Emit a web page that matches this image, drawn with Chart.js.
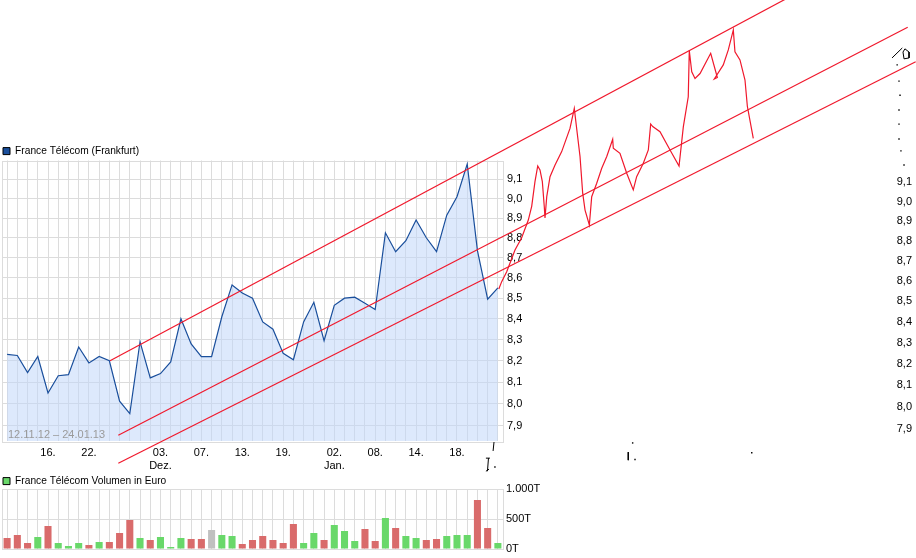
<!DOCTYPE html>
<html><head><meta charset="utf-8">
<script src="https://cdn.jsdelivr.net/npm/chart.js@4"></script>
<style>
html,body{margin:0;padding:0;background:#fff;width:916px;height:558px;overflow:hidden}
canvas{position:absolute;display:block}
</style></head><body>
<canvas id="price" width="530" height="327" style="left:0;top:145px"></canvas>
<canvas id="vol" width="560" height="83" style="left:0;top:475px"></canvas>
<canvas id="pen" width="916" height="558" style="left:0;top:0;pointer-events:none"></canvas>
<script>
const dates=['12.11','13.11','14.11','15.11','16.11','19.11','20.11','21.11','22.11','23.11','26.11','27.11','28.11','29.11','30.11','03.12','04.12','05.12','06.12','07.12','10.12','11.12','12.12','13.12','14.12','17.12','18.12','19.12','20.12','21.12','27.12','28.12','02.01','03.01','04.01','07.01','08.01','09.01','10.01','11.01','14.01','15.01','16.01','17.01','18.01','21.01','22.01','23.01','24.01'];
const dateTicks={'16.11':'16.','22.11':'22.','03.12':['03.','Dez.'],'07.12':'07.','13.12':'13.','19.12':'19.','02.01':['02.','Jan.'],'08.01':'08.','14.01':'14.','18.01':'18.'};
const closePrices=[8.23,8.225,8.145,8.22,8.05,8.13,8.135,8.265,8.19,8.22,8.20,8.012,7.955,8.29,8.12,8.14,8.195,8.40,8.28,8.22,8.22,8.41,8.565,8.525,8.50,8.385,8.35,8.235,8.205,8.385,8.48,8.295,8.465,8.50,8.505,8.475,8.445,8.825,8.73,8.785,8.89,8.80,8.73,8.915,9.01,9.18,8.735,8.495,8.55];
const volumes=[184,235,100,200,385,100,50,100,67,117,117,268,486,184,150,200,35,184,168,168,318,235,218,84,150,218,150,100,419,100,268,150,402,302,134,335,134,520,352,218,184,150,168,218,235,235,821,352,100];
const volumeMoves=['d','d','d','u','d','u','u','u','d','u','d','d','d','u','d','u','u','u','d','d','n','u','u','d','d','d','d','d','d','u','u','d','u','u','u','d','d','u','d','u','u','d','d','u','u','u','d','d','u'];
const priceTicks=[7.9,8.0,8.1,8.2,8.3,8.4,8.5,8.6,8.7,8.8,8.9,9.0,9.1];
const volumeTicks=[0,500,1000];
const volumeTickLabels=['0T','500T','1.000T'];
const rangeLabel='12.11.12 \u2013 24.01.13';
const priceName='France T\u00e9l\u00e9com (Frankfurt)';
const volumeName='France T\u00e9l\u00e9com Volumen in Euro';
const channelUpper=[{x:10.03,y:8.20},{x:76.4,y:10.105}];
const channelMiddle=[{x:10.84,y:7.857},{x:87.93,y:9.93}];
const channelLower=[{x:10.84,y:7.731},{x:88.71,y:9.736}];
const penDays=[48.0,48.28,48.77,49.58,50.23,50.88,51.21,51.53,51.8,52.02,52.25,52.44,52.51,52.68,53.0,53.49,54.14,54.95,55.37,55.66,55.93,56.19,56.42,56.84,57.07,57.56,58.05,58.54,59.12,59.18,59.83,60.49,61.13,61.46,62.11,62.6,62.83,63.03,63.74,64.72,65.6,66.02,66.5,66.6,66.84,67.16,67.65,68.69,69.34,69.04,69.92,70.41,70.9,71.06,71.55,72.04,72.27,72.7,72.85];
const penPrices=[8.545,8.581,8.63,8.738,8.80,8.89,8.96,9.088,9.17,9.149,9.088,8.958,8.90,9.01,9.114,9.175,9.246,9.37,9.478,9.343,9.22,9.028,8.941,8.865,9.01,9.08,9.158,9.22,9.312,9.264,9.237,9.132,9.045,9.114,9.185,9.255,9.394,9.38,9.352,9.255,9.17,9.38,9.542,9.798,9.68,9.643,9.67,9.783,9.648,9.64,9.718,9.802,9.915,9.792,9.746,9.634,9.49,9.361,9.317];
const scribbleDays=[86.4,87.4,null,87.47,87.66,88.06,88.06,87.57,87.47,null,47.53,47.44,null,46.74,47.13,null,46.99,46.89,null,46.74,47.04,null,60.64,60.64];
const scribblePrices=[9.757,9.813,null,9.79,9.808,9.79,9.757,9.752,9.79,null,7.826,7.786,null,7.754,7.754,null,7.754,7.696,null,7.696,7.705,null,7.781,7.745];
const speckDays=[86.9,87.08,87.18,87.08,87.08,87.08,87.27,87.57,61.07,61.3,72.7,47.62];
const speckPrices=[9.718,9.628,9.55,9.47,9.393,9.313,9.25,9.175,7.822,7.748,7.778,7.715];

const FONT={family:'"Liberation Sans",Arial,sans-serif',size:11};
const LEGEND_FONT={family:FONT.family,size:10.2};
const GRID='#dcdcdc',RED='#f0182c',BLUE='#1a4f9c',GREEN='#69d86a',DOWN='#d96b6b',NEUTRAL='#c0c0c0';
const moveColor={u:GREEN,d:DOWN,n:NEUTRAL};
Chart.defaults.font.family=FONT.family;
Chart.defaults.font.size=FONT.size;
Chart.defaults.color='#000';
const frame={id:'frame',beforeDatasetsDraw(c){const a=c.chartArea,x=c.ctx;x.save();x.strokeStyle=GRID;x.lineWidth=1;
  x.strokeRect(Math.round(a.left)+.5,Math.round(a.top)+.5,Math.round(a.width),Math.round(a.height));x.restore();}};
const stamp={id:'stamp',afterDatasetsDraw(c){const a=c.chartArea,x=c.ctx;x.save();x.font='11px '+FONT.family;x.fillStyle='#9a9a9a';
  x.textBaseline='alphabetic';x.fillText(rangeLabel,a.left+6,a.bottom-3);x.restore();}};
const legendOf=(text,color,maxHeight)=>({align:'start',maxHeight,labels:{boxWidth:7,boxHeight:7,padding:1,font:LEGEND_FONT,color:'#000',
  generateLabels:()=>[{text,fillStyle:color,strokeStyle:'#000',lineWidth:1,hidden:false,datasetIndex:0}]}});
const noPad=s=>{s.paddingTop=s.paddingBottom=s.paddingLeft=s.paddingRight=0;};
const xFit=h=>s=>{s.height=h;noPad(s);};
const yFit=w=>s=>{s.width=w;noPad(s);};

new Chart(document.getElementById('price'),{type:'line',plugins:[frame,stamp],
 data:{labels:dates,datasets:[{data:closePrices,borderColor:BLUE,borderWidth:1.2,tension:0,pointRadius:0,fill:'start',backgroundColor:'rgba(193,215,249,.54)'}]},
 options:{responsive:false,animation:false,devicePixelRatio:1,layout:{autoPadding:false,padding:{left:2,top:0,right:0,bottom:0}},
  plugins:{legend:legendOf(priceName,BLUE,15.5),tooltip:{enabled:false}},
  scales:{
   x:{type:'category',offset:true,afterFit:xFit(31),border:{display:false},grid:{color:GRID,offset:false,drawTicks:false},
      ticks:{autoSkip:false,maxRotation:0,padding:5,font:FONT,color:'#000',callback(v){return dateTicks[dates[v]]||'';}}},
   y:{type:'logarithmic',bounds:'data',position:'right',min:7.831,max:9.199,afterFit:yFit(27),border:{display:false},grid:{color:GRID,drawTicks:false},
      afterBuildTicks(s){s.ticks=priceTicks.map(v=>({value:v}));},
      ticks:{padding:4,font:FONT,color:'#000',callback(v){return v.toFixed(1).replace('.',',');}}}
  }}});

new Chart(document.getElementById('vol'),{type:'bar',plugins:[frame],
 data:{labels:dates,datasets:[{data:volumes,backgroundColor:volumeMoves.map(m=>moveColor[m]),barPercentage:.69,categoryPercentage:1}]},
 options:{responsive:false,animation:false,devicePixelRatio:1,layout:{autoPadding:false,padding:{left:2,top:0,right:0,bottom:0}},
  plugins:{legend:legendOf(volumeName,GREEN,14.3),tooltip:{enabled:false}},
  scales:{
   x:{type:'category',offset:true,afterFit:xFit(9),border:{display:false},grid:{color:GRID,offset:false,drawTicks:false},ticks:{display:false}},
   y:{type:'linear',position:'right',min:0,max:1000,afterFit:yFit(57),border:{display:false},grid:{color:GRID,drawTicks:false},
      afterBuildTicks(s){s.ticks=volumeTicks.map(v=>({value:v}));},
      ticks:{padding:3,font:FONT,color:'#000',callback(v){return volumeTickLabels[volumeTicks.indexOf(v)];}}}
  }}});

const xy=(xs,ys)=>xs.map((x,i)=>({x,y:ys[i]}));
const redLine=d=>({data:d,borderColor:RED,borderWidth:1.2,showLine:true,pointRadius:0,clip:false,tension:0,yAxisID:'y'});
new Chart(document.getElementById('pen'),{type:'scatter',
 data:{datasets:[redLine(channelUpper),redLine(channelMiddle),redLine(channelLower),redLine(xy(penDays,penPrices)),
  {data:xy(scribbleDays,scribblePrices),borderColor:'#000',borderWidth:1,showLine:true,spanGaps:false,pointRadius:0,yAxisID:'y'},
  {data:xy(speckDays,speckPrices),backgroundColor:'#000',borderWidth:0,pointStyle:'rect',pointRadius:1,yAxisID:'y'}]},
 options:{responsive:false,animation:false,devicePixelRatio:1,layout:{autoPadding:false,padding:0},
  plugins:{legend:{display:false},tooltip:{enabled:false}},
  scales:{
   x:{type:'linear',min:-0.713,max:88.74,display:false},
   y:{type:'logarithmic',bounds:'data',min:7.322,max:10.087,display:false},
   yCopy:{type:'logarithmic',bounds:'data',position:'right',min:7.335,max:10.104,afterFit:yFit(0),border:{display:false},grid:{display:false,drawTicks:false},
      afterBuildTicks(s){s.ticks=priceTicks.map(v=>({value:v}));},
      ticks:{mirror:true,padding:-4,font:FONT,color:'#000',callback(v){return v.toFixed(1).replace('.',',');}}}
  }}});
</script></body></html>
